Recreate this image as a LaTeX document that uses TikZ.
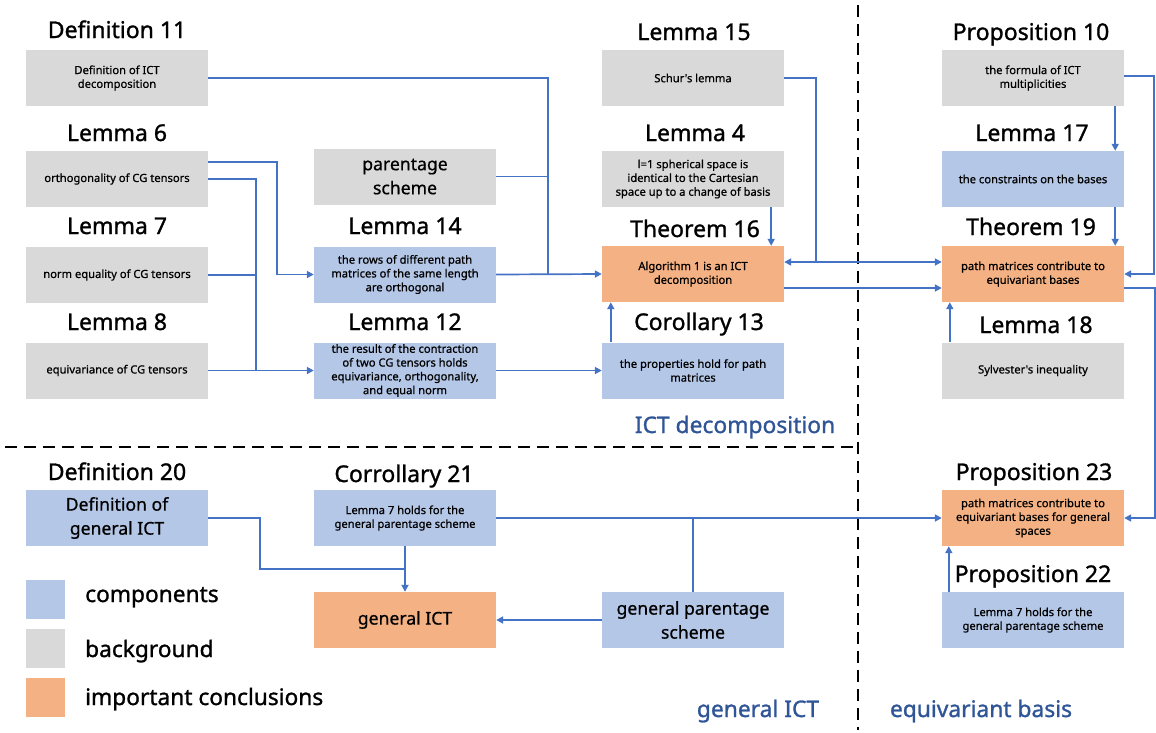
\documentclass[tikz,border=0pt]{standalone}
\usepackage{fontspec}
\setmainfont{Noto Sans}
\newfontfamily\heavy{Noto Sans}[FakeBold=1.2]
\newfontfamily\semi{Noto Sans}[FakeBold=0.7]
\usetikzlibrary{arrows.meta}
\definecolor{cgray}{HTML}{D9D9D9}
\definecolor{cblue}{HTML}{B4C7E7}
\definecolor{corange}{HTML}{F4B183}
\definecolor{cline}{HTML}{4472C4}
\definecolor{ctitle}{HTML}{2F5597}
\begin{document}
\begin{tikzpicture}[x=1pt,y=-1pt,
  box/.style={minimum width=182pt,minimum height=56pt,inner sep=0pt,align=center,
    font=\semi\fontsize{11.2}{13.8}\selectfont},
  bigbox/.style={box,font=\semi\fontsize{17.6}{24}\selectfont},
  gbox/.style={box,fill=cgray},
  bbox/.style={box,fill=cblue},
  obox/.style={box,fill=corange},
  lab/.style={anchor=base,inner sep=0pt,font=\heavy\fontsize{23}{26}\selectfont},
  sect/.style={lab,text=ctitle,font=\heavy\fontsize{22.8}{26}\selectfont},
  legtxt/.style={anchor=base west,inner sep=0pt,font=\heavy\fontsize{22.7}{26}\selectfont},
  conn/.style={draw=cline,line width=1.7pt},
  arr/.style={conn,-{Triangle[length=7pt,width=7pt]}},
  darr/.style={conn,{Triangle[length=7pt,width=7pt]}-{Triangle[length=7pt,width=7pt]}},
  sep/.style={draw=black,line width=2.4pt,dash pattern=on 12pt off 7pt}
]
\useasboundingbox (0,0) rectangle (1156,732);

% separators
\draw[sep] (5,447) -- (858,447);
\draw[sep] (858,5) -- (858,730);

% labels
\node[lab] (tdef11) at (117,38) {Definition 11};
\node[lab] (tlem15) at (694,40) {Lemma 15};
\node[lab] (tprop10) at (1031,40) {Proposition 10};
\node[lab] (tlem6) at (117,141) {Lemma 6};
\node[lab] (tlem4) at (695,141) {Lemma 4};
\node[lab] (tlem17) at (1032,141) {Lemma 17};
\node[lab] (tlem7) at (117,234) {Lemma 7};
\node[lab] (tlem14) at (405,234) {Lemma 14};
\node[lab] (tthm16) at (695,237) {Theorem 16};
\node[lab] (tthm19) at (1031,235) {Theorem 19};
\node[lab] (tlem8) at (117,330) {Lemma 8};
\node[lab] (tlem12) at (405,330) {Lemma 12};
\node[lab] (tcor13) at (699,330) {Corollary 13};
\node[lab] (tlem18) at (1036,333) {Lemma 18};
\node[lab] (tdef20) at (117,480) {Definition 20};
\node[lab] (tcor21) at (404,482) {Corrollary 21};
\node[lab] (tprop23) at (1034,480) {Proposition 23};
\node[lab] (tprop22) at (1033,582) {Proposition 22};

% boxes
\node[gbox] (def11) at (117,78) {Definition of ICT\\decomposition};
\node[gbox] (lem15) at (693,78) {Schur's lemma};
\node[gbox] (prop10) at (1033,78) {the formula of ICT\\multiplicities};
\node[gbox] (lem6) at (117,179) {orthogonality of CG tensors};
\node[gbox,bigbox,fill=cgray] (ps) at (405,176.5) {parentage\\scheme};
\node[gbox] (lem4) at (693,179) {l=1 spherical space is\\identical to the Cartesian\\space up to a change of basis};
\node[bbox] (lem17) at (1033,179) {the constraints on the bases};
\node[gbox] (lem7) at (117,275) {norm equality of CG tensors};
\node[bbox] (lem14) at (405,274.5) {the rows of different path\\matrices of the same length\\are orthogonal};
\node[obox] (thm16) at (693,274) {Algorithm 1 is an ICT\\decomposition};
\node[obox] (thm19) at (1033,274) {path matrices contribute to\\equivariant bases};
\node[gbox] (lem8) at (117,370.5) {equivariance of CG tensors};
\node[bbox] (lem12) at (405,370.5) {the result of the contraction\\of two CG tensors holds\\equivariance, orthogonality,\\and equal norm};
\node[bbox] (cor13) at (693,370.5) {the properties hold for path\\matrices};
\node[gbox] (lem18) at (1033,370.5) {Sylvester's inequality};
\node[bbox,bigbox,fill=cblue] (def20) at (117,518) {Definition of\\general ICT};
\node[bbox] (cor21) at (405,518) {Lemma 7 holds for the\\general parentage scheme};
\node[obox] (prop23) at (1033,518) {path matrices contribute to\\equivariant bases for general\\spaces};
\node[obox,bigbox,fill=corange] (gict) at (405,620) {general ICT};
\node[bbox,bigbox,fill=cblue] (gps) at (693,620) {general parentage\\scheme};
\node[bbox] (prop22) at (1033,620) {Lemma 7 holds for the\\general parentage scheme};

% legend
\node[fill=cblue,minimum width=39pt,minimum height=39pt,inner sep=0pt] (legb) at (45,599.5) {};
\node[fill=cgray,minimum width=39pt,minimum height=39pt,inner sep=0pt] (legg) at (45,648.5) {};
\node[fill=corange,minimum width=39pt,minimum height=39pt,inner sep=0pt] (lego) at (45,697.5) {};
\node[legtxt] (legbt) at (85,602) {components};
\node[legtxt] (leggt) at (85,657) {background};
\node[legtxt] (legot) at (85,705) {important conclusions};

% section titles
\node[sect] (s1) at (735,433) {ICT decomposition};
\node[sect] (s2) at (758,717) {general ICT};
\node[sect] (s3) at (981,717) {equivariant basis};

% connectors
\coordinate (j1) at (548,274.5);
\draw[conn] (def11.east) -| (j1);
\draw[conn] (ps.east) -- (ps.east -| j1);
\draw[arr] (lem14.east) -- (thm16.west);

\draw[arr] ([yshift=17pt]lem6.east) -- ++(69,0) |- (lem14.west);
\coordinate (j2) at (256,370.5);
\draw[conn] (lem6.east) -| (j2);
\draw[conn] (lem7.east) -- (lem7.east -| j2);
\draw[arr] (lem8.east) -- (lem12.west);
\draw[arr] (lem12.east) -- (cor13.west);

\draw[arr] ([xshift=9pt]cor13.north west) -- ([xshift=9pt]thm16.south west);
\draw[arr] ([xshift=-13pt]lem4.south east) -- ([xshift=-13pt]thm16.north east);

\coordinate (j3) at (816,262);
\draw[conn] (lem15.east) -| (j3);
\draw[darr] (thm16.east |- j3) -- (thm19.west |- j3);
\draw[arr] ([yshift=-14pt]thm16.east) -- ([yshift=-14pt]thm19.west);

\draw[arr] ([yshift=2pt]prop10.east) -- ++(30,0) |- (thm19.east);
\draw[arr] ([xshift=-9pt]prop10.south east) -- ([xshift=-9pt]lem17.north east);
\draw[arr] ([xshift=-9pt]lem17.south east) -- ([xshift=-9pt]thm19.north east);
\draw[arr] ([xshift=8pt]lem18.north west) -- ([xshift=8pt]thm19.south west);
\draw[arr] ([yshift=-14pt]thm19.east) -- ++(31,0) |- (prop23.east);

\draw[arr] (cor21.east) -- (prop23.west);
\draw[conn] (gps.north) -- (gps.north |- cor21.east);
\coordinate (j4) at (260,569);
\draw[conn] (def20.east) -| (j4) -- (cor21.south |- j4);
\draw[arr] (cor21.south) -- (gict.north);
\draw[arr] (gps.west) -- (gict.east);
\draw[arr] ([xshift=7pt]prop22.north west) -- ([xshift=7pt]prop23.south west);
\end{tikzpicture}
\end{document}
